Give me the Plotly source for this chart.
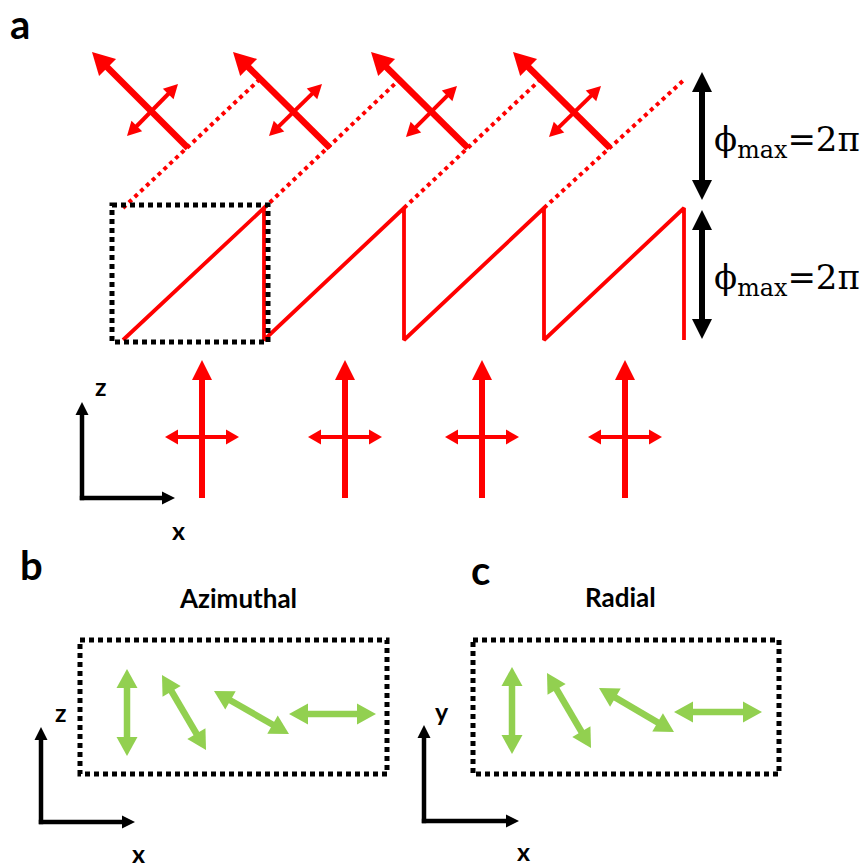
import numpy as np
import plotly.graph_objects as go

RED = "#FF0000"
GREEN = "#92D050"
BLACK = "#000000"

# ---------------- panel a : phase sawtooth ----------------
ramp_x = [123, 264, 404, 544, 684]          # period boundaries
phase_low = 340
phase_high = 208
box_a = [112, 205, 268, 342]                # dotted unit cell

# dotted "unwrapped" phase continuation
dot_start_x = [123, 264, 404, 544]
dot_end_x = [260, 400, 541, 685]
dot_start_y = 208
dot_end_y = 79

# tilted output polarisation arrows (tail -> tip)
tilt_tail_x = [188, 330, 468, 610]
tilt_tip_x = [92, 233, 371, 513]
tilt_tail_y = 148
tilt_tip_y = 52
tilt_small_x0 = [127, 269, 406, 549]
tilt_small_y0 = [136, 136, 137, 137]
tilt_small_x1 = [178, 322, 457, 601]
tilt_small_y1 = [84, 84, 86, 86]

# incident polarisation arrows
inc_x = [202, 345, 482, 625]
inc_tail_y = 498
inc_tip_y = 360
inc_cross_y = 437
inc_cross_half = 37

# phase range arrows
phi_x = 702
phi_top = [72, 210]
phi_bot = [200, 339]
phi_label_y = [141, 279]

# ---------------- panels b, c ----------------
box_b = [80, 640, 387, 774]
box_c = [473, 640, 779, 774]
green_b = [(127, 669, 127, 756), (162, 675, 206, 750), (214, 691, 289, 734), (289, 714, 376, 714)]
green_c = [(512, 667, 512, 754), (547, 673, 591, 748), (599, 688, 674, 732), (674, 712, 762, 712)]

# coordinate frames (origin x, origin y, up tip y, right tip x)
frames = [(82, 498, 402, 175), (41, 822, 727, 135), (424, 821, 725, 519)]

shapes = []


def arrow(x0, y0, x1, y1, color, width, hl, hw, double=False):
    p0 = np.array([x0, y0], float)
    p1 = np.array([x1, y1], float)
    d = p1 - p0
    u = d / np.hypot(*d)
    n = np.array([-u[1], u[0]])
    s = p0 + u * hl * 0.9 if double else p0
    e = p1 - u * hl * 0.9
    shapes.append(dict(type="line", xref="x", yref="y", x0=s[0], y0=s[1], x1=e[0], y1=e[1],
                       line=dict(color=color, width=width)))

    def head(tip, dv):
        b = tip - dv * hl
        a1 = b + n * hw / 2
        a2 = b - n * hw / 2
        shapes.append(dict(type="path", xref="x", yref="y",
                           path=f"M{tip[0]:.2f},{tip[1]:.2f} L{a1[0]:.2f},{a1[1]:.2f} L{a2[0]:.2f},{a2[1]:.2f} Z",
                           fillcolor=color, line=dict(width=0)))
    head(p1, u)
    if double:
        head(p0, -u)


def dotted_box(b):
    shapes.append(dict(type="rect", xref="x", yref="y", x0=b[0], y0=b[1], x1=b[2], y1=b[3],
                       line=dict(color=BLACK, width=5, dash="5px,4px"), fillcolor="rgba(0,0,0,0)"))


fig = go.Figure()

# sawtooth
saw_x, saw_y = [], []
for i in range(len(ramp_x) - 1):
    saw_x += [ramp_x[i], ramp_x[i + 1], ramp_x[i + 1]]
    saw_y += [phase_low, phase_high, phase_low]
fig.add_trace(go.Scatter(x=saw_x, y=saw_y, mode="lines", line=dict(color=RED, width=3.8),
                         hoverinfo="skip", showlegend=False))

# dotted continuations
for xs, xe in zip(dot_start_x, dot_end_x):
    fig.add_trace(go.Scatter(x=[xs, xe], y=[dot_start_y, dot_end_y], mode="lines",
                             line=dict(color=RED, width=4, dash="4px,4px"),
                             hoverinfo="skip", showlegend=False))

dotted_box(box_a)
dotted_box(box_b)
dotted_box(box_c)

# tilted arrows
for i in range(4):
    arrow(tilt_tail_x[i], tilt_tail_y, tilt_tip_x[i], tilt_tip_y, RED, 6.5, 22, 24)
    arrow(tilt_small_x0[i], tilt_small_y0[i], tilt_small_x1[i], tilt_small_y1[i], RED, 4, 14, 15, double=True)

# incident arrows
for x in inc_x:
    arrow(x, inc_tail_y, x, inc_tip_y, RED, 6, 20, 20)
    arrow(x - inc_cross_half, inc_cross_y, x + inc_cross_half, inc_cross_y, RED, 4, 13, 15, double=True)

# phase range arrows
for t, b in zip(phi_top, phi_bot):
    arrow(phi_x, b, phi_x, t, BLACK, 6, 20, 20, double=True)

# green polarisation arrows
for g in green_b + green_c:
    arrow(g[0], g[1], g[2], g[3], GREEN, 6.5, 19, 21, double=True)

# frames
for ox, oy, uy, rx in frames:
    arrow(ox, oy + 2.2, ox, uy, BLACK, 4.5, 13, 13)
    arrow(ox - 2.2, oy, rx, oy, BLACK, 4.5, 13, 13)

ann = []
SANS = "Lato, 'Open Sans', sans-serif"


def txt(x, y, s, size, bold=True, family=SANS, xanchor="center"):
    ann.append(dict(x=x, y=y, xref="x", yref="y", text=(f"<b>{s}</b>" if bold else s), showarrow=False,
                    font=dict(family=family, size=size, color=BLACK), xanchor=xanchor, yanchor="middle"))


txt(20, 24, "a", 40)
txt(31, 565, "b", 40)
txt(480, 570, "c", 40)
txt(238, 598, "Azimuthal", 26)
txt(620, 597, "Radial", 26)
txt(101, 386, "z", 25)
txt(178, 530, "x", 25)
txt(61, 712, "z", 25)
txt(138, 853, "x", 25)
txt(442, 711, "y", 25)
txt(523, 851, "x", 25)
for yy in phi_label_y:
    txt(712, yy, "ϕ<sub>max</sub>=2π", 34, bold=False, family="'DejaVu Serif', serif", xanchor="left")

fig.update_layout(
    width=867, height=867, margin=dict(l=0, r=0, t=0, b=0),
    paper_bgcolor="white", plot_bgcolor="white",
    xaxis=dict(range=[0, 867], visible=False, fixedrange=True),
    yaxis=dict(range=[867, 0], visible=False, fixedrange=True),
    shapes=shapes, annotations=ann, showlegend=False,
)
fig.write_html("out.html")
